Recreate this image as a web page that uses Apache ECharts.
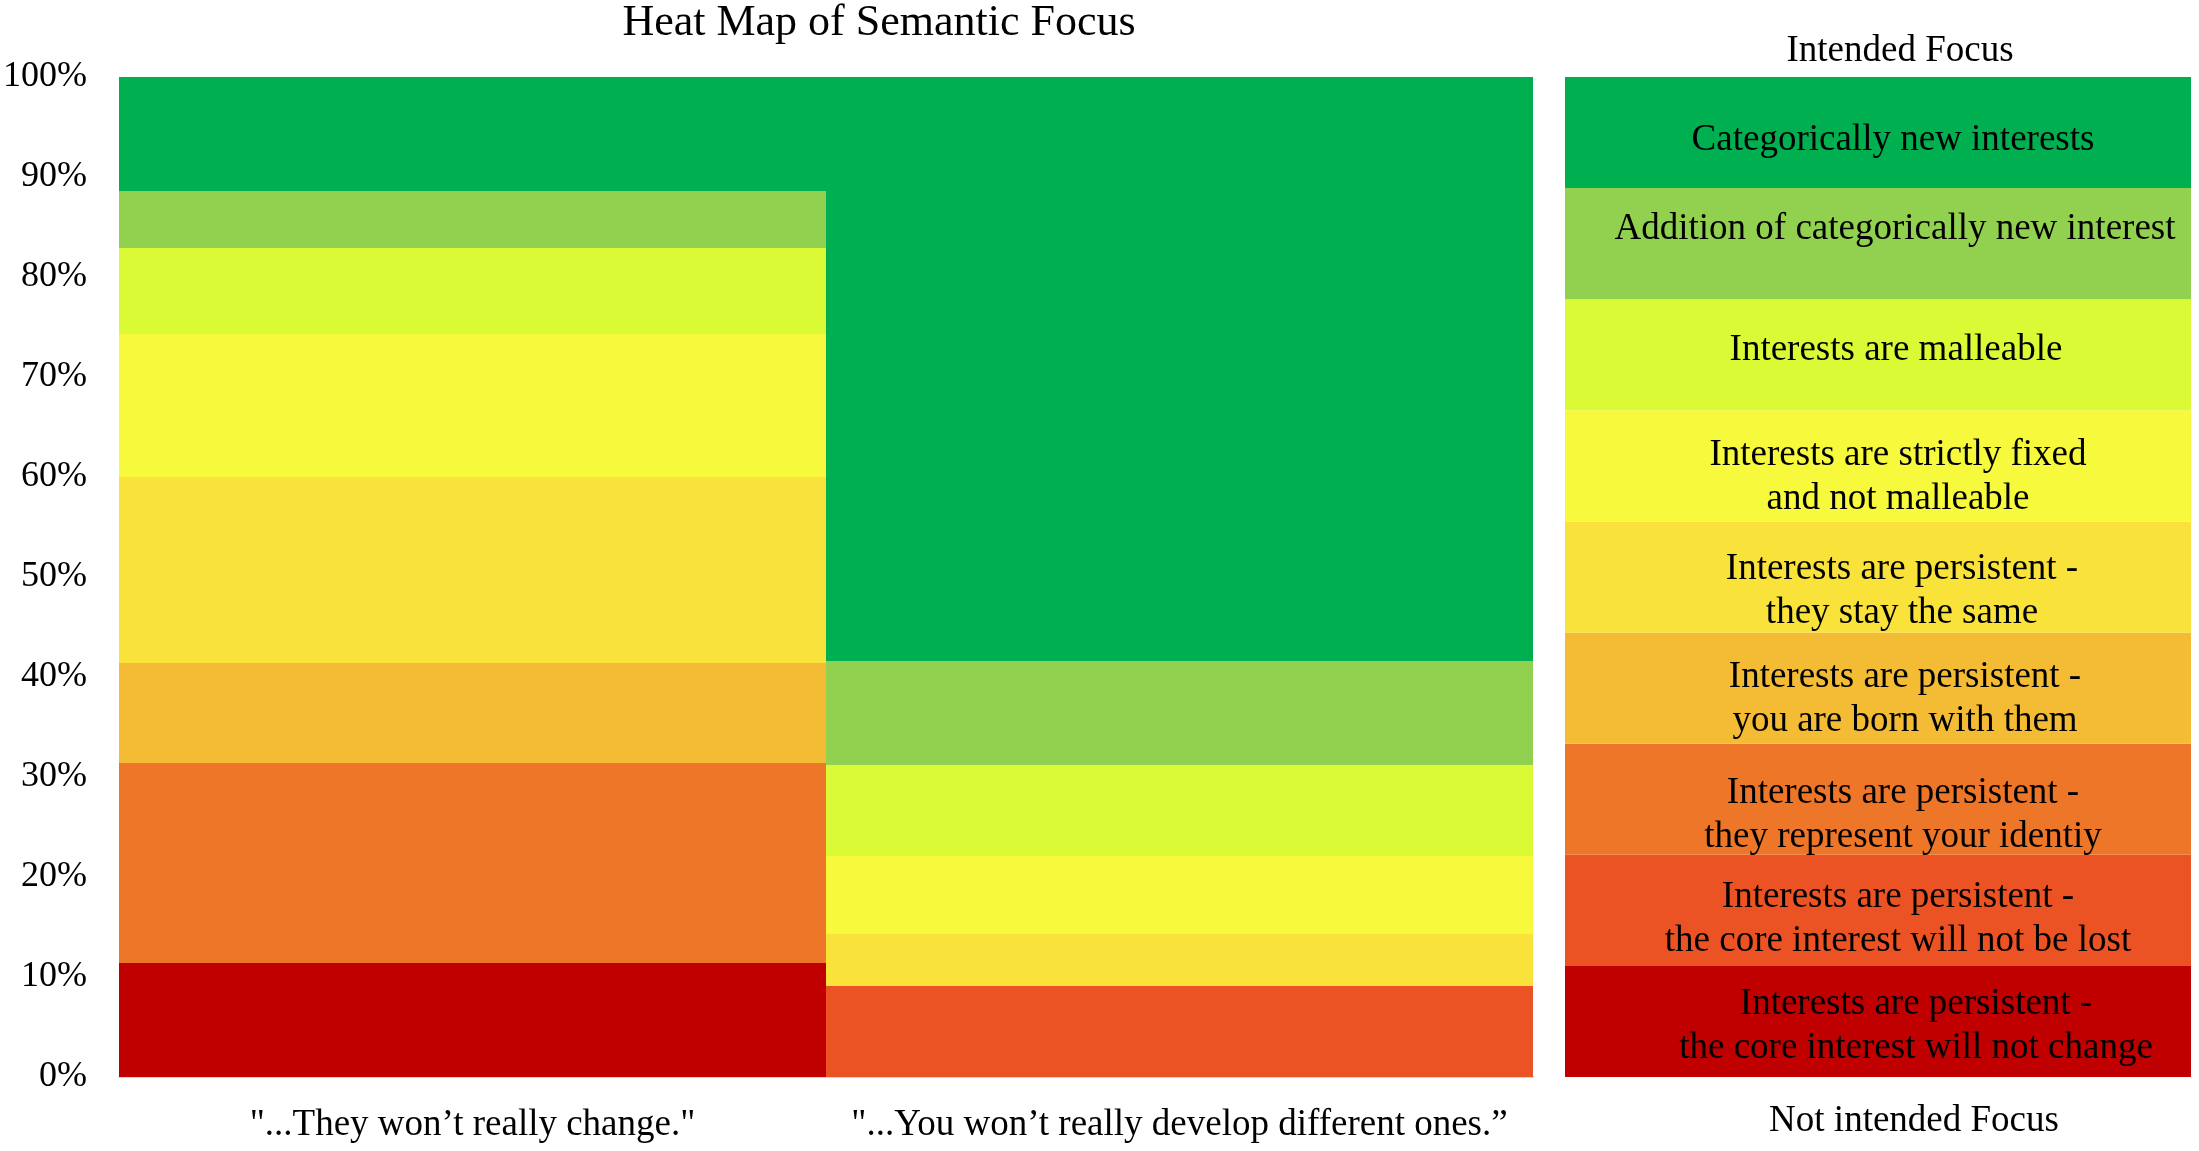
<!DOCTYPE html>
<html>
<head>
<meta charset="utf-8">
<title>Heat Map of Semantic Focus</title>
<script src="https://cdn.jsdelivr.net/npm/echarts@6/dist/echarts.min.js"></script>
<style>
    html, body { margin: 0; padding: 0; background: #fff; }
    #main { width: 2199px; height: 1151px; }
</style>
</head>
<body>
<div id="main"></div>
<script>
// statements on the x axis
var categories = ['"...They won\u2019t really change."', '"...You won\u2019t really develop different ones.\u201d'];

// focus levels, bottom of the stack to top
var focusLevels = [
    'Interests are persistent -\nthe core interest will not change',
    'Interests are persistent -\nthe core interest will not be lost',
    'Interests are persistent -\nthey represent your identiy',
    'Interests are persistent -\nyou are born with them',
    'Interests are persistent -\nthey stay the same',
    'Interests are strictly fixed\nand not malleable',
    'Interests are malleable',
    'Addition of categorically new interest',
    'Categorically new interests'
];
var focusColors = ['#C00000', '#EB5324', '#EE7628', '#F4BC34', '#F9E33A', '#F6F93C', '#DAFA36', '#92D050', '#00AF50'];
// nudges of the key labels, bottom to top
var keyLabelOffsets = [[38, 5], [20, 9], [25, 16], [27, 11], [24, 14], [20, 11], [18, -4], [17, -14], [15, 8]];

// share of answers (%) per focus level, same order as focusLevels
var theyWontChange = [11.4, 0, 20.0, 10.0, 18.6, 14.3, 8.6, 5.7, 11.4];
var wontDevelopDifferent = [0, 9.1, 0, 0, 5.2, 7.8, 9.1, 10.4, 58.4];

var yTicks = [0, 100, 10];

var font = 'Liberation Serif';

var myChart = echarts.init(document.getElementById('main'));

var series = [];
for (var i = 0; i < focusLevels.length; i++) {
    series.push({
        name: focusLevels[i],
        type: 'bar',
        stack: 'focus',
        xAxisIndex: 0,
        yAxisIndex: 0,
        barCategoryGap: 0,
        barWidth: '100%',
        itemStyle: { color: focusColors[i] },
        data: [theyWontChange[i], wontDevelopDifferent[i]]
    });
}
// legend column drawn as a second stacked bar of equal rows
for (var i = 0; i < focusLevels.length; i++) {
    series.push({
        name: 'key ' + i,
        type: 'bar',
        stack: 'key',
        xAxisIndex: 1,
        yAxisIndex: 1,
        barWidth: '100%',
        itemStyle: { color: focusColors[i] },
        label: {
            show: true,
            position: 'inside',
            offset: keyLabelOffsets[i],
            formatter: focusLevels[i],
            color: '#000',
            fontFamily: font,
            fontSize: 37,
            lineHeight: 44
        },
        data: [1]
    });
}

var option = {
    animation: false,
    backgroundColor: '#fff',
    grid: [
        { left: 119, top: 77, width: 1414, height: 1000 },
        { left: 1565, top: 77, width: 626, height: 1000 }
    ],
    xAxis: [
        {
            type: 'category',
            gridIndex: 0,
            data: categories,
            axisTick: { show: false },
            axisLine: { show: true, lineStyle: { color: '#D9D9D9', width: 2 } },
            axisLabel: { interval: 0, color: '#000', fontFamily: font, fontSize: 37, margin: 30 }
        },
        {
            type: 'category',
            gridIndex: 1,
            data: ['key'],
            axisTick: { show: false },
            axisLine: { show: false },
            axisLabel: { show: false }
        }
    ],
    yAxis: [
        {
            type: 'value',
            gridIndex: 0,
            min: yTicks[0],
            max: yTicks[1],
            interval: yTicks[2],
            axisLine: { show: false },
            axisTick: { show: false },
            splitLine: { show: false },
            axisLabel: { color: '#000', fontFamily: font, fontSize: 36, margin: 32, padding: [8, 0, 0, 0], formatter: '{value}%' }
        },
        {
            type: 'value',
            gridIndex: 1,
            min: 0,
            max: focusLevels.length,
            show: false,
            splitLine: { show: false }
        }
    ],
    graphic: [
        {
            type: 'text', x: 879, y: 23,
            style: { text: 'Heat Map of Semantic Focus', font: '44px ' + font, fill: '#000',
                     align: 'center', verticalAlign: 'middle', textAlign: 'center', textVerticalAlign: 'middle' }
        },
        {
            type: 'text', x: 1900, y: 51,
            style: { text: 'Intended Focus', font: '37px ' + font, fill: '#000',
                     align: 'center', verticalAlign: 'middle', textAlign: 'center', textVerticalAlign: 'middle' }
        },
        {
            type: 'text', x: 1914, y: 1121,
            style: { text: 'Not intended Focus', font: '37px ' + font, fill: '#000',
                     align: 'center', verticalAlign: 'middle', textAlign: 'center', textVerticalAlign: 'middle' }
        }
    ],
    series: series
};
myChart.setOption(option);
</script>
</body>
</html>
